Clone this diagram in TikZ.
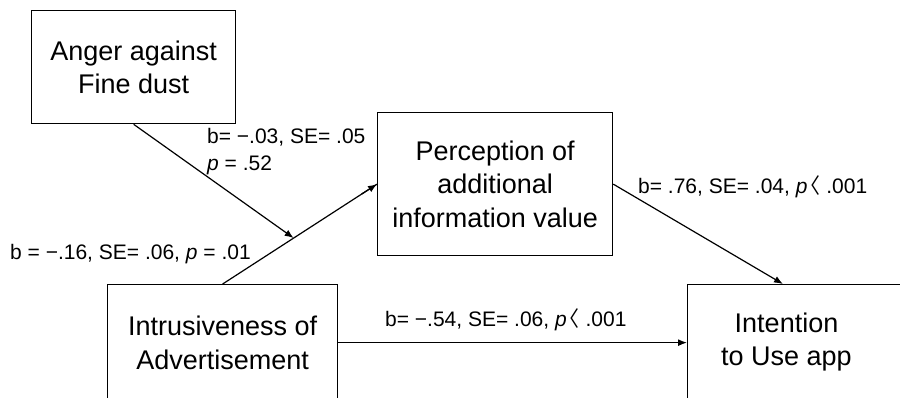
\documentclass[tikz,border=0pt]{standalone}
\usepackage{fontspec}
\setmainfont{Liberation Sans}
\newfontfamily\cjk{Noto Sans CJK KR}
\usetikzlibrary{arrows.meta,calc}
\newcommand{\ltsym}{\kern-8pt{\cjk 〈}}
\begin{document}
\begin{tikzpicture}[x=1pt,y=-1pt,
  box/.style={draw,line width=1.3pt,rectangle,inner sep=0pt,anchor=north west,align=center,
    font=\fontsize{27}{33.5}\selectfont},
  boxtext/.style={inner sep=0pt,align=center,font=\fontsize{27}{33.5}\selectfont},
  lab/.style={inner sep=0pt,anchor=west,align=left,font=\fontsize{21}{27}\selectfont},
  conn/.style={line width=1.2pt,-{Latex[length=9pt,width=7pt]}}]
\useasboundingbox (0,0) rectangle (900,398);
\clip (0,0) rectangle (900,398);
\fill[white] (0,0) rectangle (900,398);
\node[box,minimum width=204pt,minimum height=113pt] (ang) at (31,10) {Anger against\\Fine dust};
\node[box,minimum width=235pt,minimum height=143pt] (per) at (377,112) {Perception of\\additional\\information value};
\node[box,minimum width=230pt,minimum height=116pt] (itr) at (107,284) {Intrusiveness of\\Advertisement};
\node[box,minimum width=240pt,minimum height=116pt] (int) at (687,284) {};
\node[boxtext] (intt) at (786.5,342) {Intention\\to Use app};
\coordinate (mid) at ($(itr.north)!0.46!(per.west)$);
\coordinate (inttop) at ($(int.north west)+(96,0)$);
\draw[line width=1.2pt] (itr.north) -- (per.west);
\draw[conn] ($(itr.north)!0.9!(per.west)$) -- (per.west);
\draw[conn] (ang.south) -- (mid);
\draw[conn] (per.east) -- (inttop);
\draw[conn] (itr.east) -- (int.west);
\node[lab] (l1) at (207,151.5) {b= −.03, SE= .05\\\textit{p} = .52};
\node[lab] (l2) at (10,254) {b = −.16, SE= .06, \textit{p} = .01};
\node[lab] (l3) at (638,187) {b= .76, SE= .04, \textit{p}\ltsym{} .001};
\node[lab] (l4) at (385,320) {b= −.54, SE= .06, \textit{p}\ltsym{} .001};
\end{tikzpicture}
\end{document}
